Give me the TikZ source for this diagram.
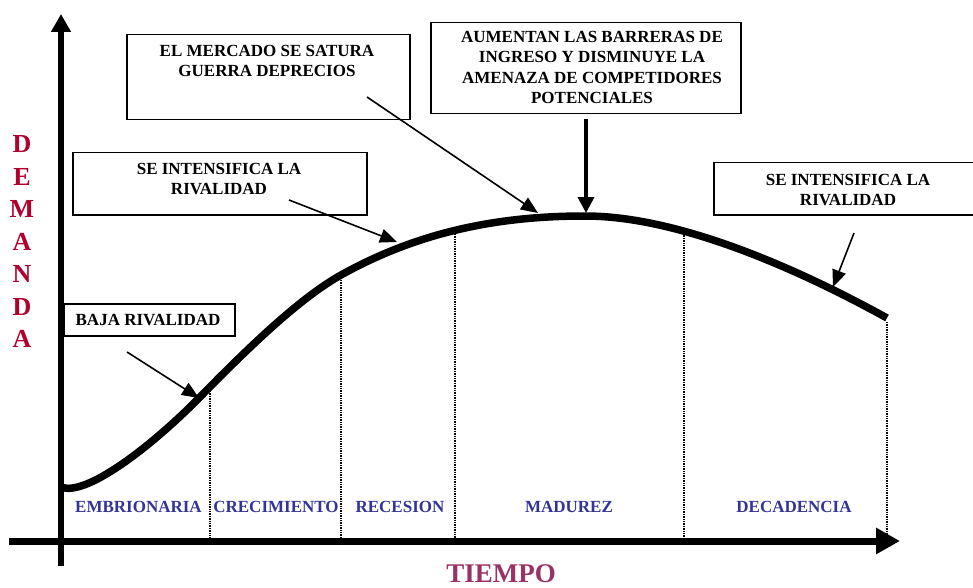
\documentclass[tikz,border=0pt]{standalone}
\usepackage{fontspec}
\setmainfont{Liberation Serif}
\usetikzlibrary{arrows.meta}
\definecolor{demred}{HTML}{B0002E}
\definecolor{tiempocol}{HTML}{993366}
\definecolor{stageblue}{HTML}{333399}
\begin{document}
\begin{tikzpicture}[x=1pt,y=-1pt,
  box/.style={draw, line width=1.5pt, inner sep=0pt, anchor=north west},
  boxtext/.style={font=\bfseries\fontsize{17}{20.5}\selectfont, align=center, inner sep=0pt},
  stage/.style={font=\bfseries\fontsize{17}{20}\selectfont, text=stageblue, inner sep=0pt},
  callout/.style={line width=1.6pt, -{Triangle[length=17pt,width=14pt]}},
  bigcallout/.style={line width=3.6pt, -{Triangle[length=16pt,width=16pt]}},
  divider/.style={line width=1.3pt, dash pattern=on 1.3pt off 1.1pt},
  axis/.style={line width=7pt}
]
\useasboundingbox (0,0) rectangle (973,588);
\fill[white] (0,0) rectangle (973,588);

% axes
\coordinate (xstart) at (9,541);
\coordinate (xend) at (900,541);
\coordinate (ystart) at (61,566);
\coordinate (yend) at (61,14);
\draw[axis, -{Triangle[length=24pt,width=25pt]}] (xstart) -- (xend);
\draw[line width=6.5pt, -{Triangle[length=18pt,width=19pt]}] (ystart) -- (yend);

% curve
\draw[line width=7.5pt, line cap=butt]
  (61,487) .. controls (85,497) and (150,448) .. (200,397)
  .. controls (250,346) and (300,298) .. (341,275)
  .. controls (420,231) and (500,216) .. (585,216)
  .. controls (680,216) and (800,270) .. (887,318);

% dividers
\coordinate (d1) at (210,391);
\coordinate (d2) at (341,280);
\coordinate (d3) at (455,234);
\coordinate (d4) at (684,233);
\coordinate (d5) at (887,322);
\foreach \d in {d1,d2,d3,d4,d5} \draw[divider] (\d) -- (\d |- xstart);

% stage labels
\node[stage] (s1) at (138.5,506.5) {EMBRIONARIA};
\node[stage] (s2) at (276,506.5) {CRECIMIENTO};
\node[stage] (s3) at (400,506.5) {RECESION};
\node[stage] (s4) at (569,506.5) {MADUREZ};
\node[stage] (s5) at (794,506.5) {DECADENCIA};

% axis titles
\node[font=\bfseries\fontsize{26}{32.5}\selectfont, text=demred, align=center, inner sep=0pt] (demanda) at (22,241.5) {D\\E\\M\\A\\N\\D\\A};
\node[font=\bfseries\fontsize{27}{30}\selectfont, text=tiempocol, inner sep=0pt] (tiempo) at (501,574) {TIEMPO};

% boxes
\node[box, minimum width=283pt, minimum height=85pt] (mercado) at (126,34) {};
\node[boxtext] (mercadot) at (267,61) {EL MERCADO SE SATURA\\GUERRA DEPRECIOS};

\node[box, minimum width=310pt, minimum height=91pt] (aumentan) at (430,22) {};
\node[boxtext] (aumentant) at (592,67.5) {AUMENTAN LAS BARRERAS DE\\INGRESO Y DISMINUYE LA\\AMENAZA DE COMPETIDORES\\POTENCIALES};

\node[box, minimum width=294pt, minimum height=62pt] (rivl) at (72,152) {};
\node[boxtext] (rivlt) at (219,179) {SE INTENSIFICA LA\\RIVALIDAD};

\node[box, minimum width=280pt, minimum height=52pt] (rivr) at (713,162) {};
\node[boxtext] (rivrt) at (848,190) {SE INTENSIFICA LA\\RIVALIDAD};

\node[box, minimum width=171pt, minimum height=32pt] (baja) at (63,303) {};
\node[boxtext] (bajat) at (148,320.5) {BAJA RIVALIDAD};

% callout arrows
\coordinate (a1s) at (367,97);  \coordinate (a1e) at (538,213);
\coordinate (a2s) at (586,119); \coordinate (a2e) at (586,213);
\coordinate (a3s) at (289,200); \coordinate (a3e) at (397,242);
\coordinate (a4s) at (854,233); \coordinate (a4e) at (833,287);
\coordinate (a5s) at (127,352); \coordinate (a5e) at (199,398);
\draw[callout] (a1s) -- (a1e);
\draw[bigcallout] (a2s) -- (a2e);
\draw[callout] (a3s) -- (a3e);
\draw[callout] (a4s) -- (a4e);
\draw[callout] (a5s) -- (a5e);
\end{tikzpicture}
\end{document}
